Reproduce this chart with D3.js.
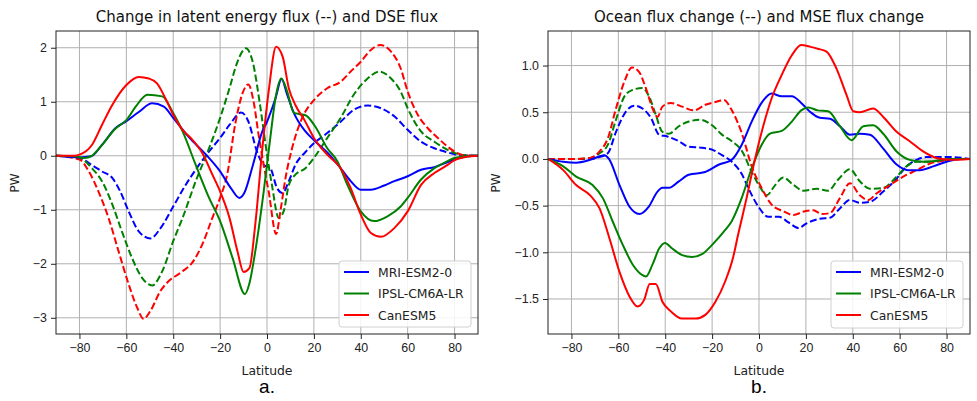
<!DOCTYPE html>
<html>
<head>
<meta charset="utf-8">
<script src="https://cdn.jsdelivr.net/npm/d3@7"></script>
<style>
  body { margin: 0; background: #fff; }
  svg { display: block; font-family: "DejaVu Sans", sans-serif; }
  .grid line { stroke: #b0b0b0; stroke-width: 1; }
  .axis path, .axis line { stroke: #222; }
  .axis text { fill: #222; font-size: 12.4px; }
</style>
</head>
<body>
<script>
// --- data ---
const models = ['MRI-ESM2-0', 'IPSL-CM6A-LR', 'CanESM5'];
const colors = ['#0000ff', '#008000', '#ff0000'];
const latTicks = [-80, -60, -40, -20, 0, 20, 40, 60, 80];
const leftTicks = [-3, -2, -1, 0, 1, 2];
const rightTicks = [-1.5, -1.0, -0.5, 0.0, 0.5, 1.0];

// panel a, solid: DSE flux change [lat, PW]
const dseMRI = [[-90,0],[-80,-0.03],[-75,-0.01],[-70.4,0.2],[-64.7,0.51],[-60,0.64],[-54.7,0.81],[-49,0.97],[-44,0.91],[-40,0.7],[-33,0.33],[-26,0.02],[-20,-0.29],[-15.4,-0.6],[-11.8,-0.78],[-9.7,-0.69],[-6,-0.17],[-2,0.45],[0,0.63],[3.6,1.06],[6.2,1.42],[8.6,1.13],[11.4,0.8],[16.4,0.45],[20.5,0.27],[25.7,0.06],[31.4,-0.23],[35.7,-0.47],[40,-0.63],[44.3,-0.63],[50,-0.55],[54.3,-0.47],[60,-0.38],[65.7,-0.26],[71.4,-0.21],[75.7,-0.14],[80,-0.07],[85.7,-0.01],[90,0]];
const dseIPSL = [[-90,0],[-82,-0.01],[-78,-0.04],[-74.7,0],[-70.4,0.2],[-64.7,0.5],[-60,0.66],[-56,0.91],[-51,1.13],[-44.7,1.1],[-40,0.79],[-36,0.45],[-30.4,-0.17],[-24.7,-0.78],[-20,-1.21],[-14.7,-1.89],[-9.4,-2.56],[-7.6,-2.38],[-5,-1.77],[-1.4,-0.66],[1.4,0.33],[3.6,1.06],[6.1,1.43],[8.6,1.19],[11.4,0.8],[14,0.77],[16.4,0.75],[20.3,0.56],[25.7,0.14],[30,-0.1],[34.3,-0.54],[40,-1.03],[45.7,-1.21],[51.4,-1.12],[57,-0.94],[60,-0.78],[65.7,-0.44],[71.4,-0.23],[77,-0.1],[80,-0.04],[85,-0.01],[90,0]];
const dseCan = [[-90,0],[-82,0],[-80,0.02],[-74.7,0.2],[-70.4,0.57],[-66,0.94],[-60,1.31],[-54.7,1.46],[-50.4,1.43],[-46.9,1.34],[-43.3,1.06],[-40,0.76],[-36,0.48],[-31.9,0.3],[-27.6,0.05],[-23.3,-0.35],[-20,-0.66],[-16,-1.15],[-12.6,-1.77],[-10,-2.15],[-7.5,-2.08],[-5,-1.27],[-2.1,0.08],[0.7,1.19],[3.9,2.02],[6.7,1.83],[9.3,1.25],[12.1,0.94],[16,0.66],[20,0.33],[25.7,0.02],[31.4,-0.23],[35.7,-0.6],[40,-1.09],[44.3,-1.43],[48.6,-1.5],[54.3,-1.34],[60,-1.03],[65.7,-0.54],[71.4,-0.32],[77,-0.17],[80,-0.08],[85,-0.02],[90,0]];

// panel a, dashed: latent energy flux change
const leMRI = [[-90,0],[-80,-0.04],[-74.7,-0.17],[-70.4,-0.29],[-66,-0.41],[-62.6,-0.66],[-59,-1.03],[-54.7,-1.4],[-49.7,-1.53],[-45.4,-1.34],[-40,-0.94],[-34.7,-0.54],[-29,-0.17],[-24.7,0.08],[-20,0.33],[-16,0.57],[-11,0.8],[-7.9,0.63],[-4.3,0.08],[-1.4,-0.17],[1.4,-0.23],[4.3,-0.6],[6.7,-0.69],[9.3,-0.47],[12.1,-0.17],[16.4,0.07],[20,0.23],[25.7,0.42],[31.4,0.63],[37,0.85],[42.9,0.93],[48.6,0.88],[54.3,0.73],[60,0.48],[65.7,0.26],[71.4,0.14],[75.7,0.08],[80,0.03],[84,0.01],[90,0]];
const leIPSL = [[-90,0],[-80,-0.04],[-74.7,-0.23],[-70.4,-0.47],[-66,-0.9],[-61.9,-1.4],[-57.6,-1.89],[-53.3,-2.26],[-49,-2.4],[-44.7,-2.14],[-40,-1.58],[-36,-1.15],[-30.4,-0.47],[-24.7,0.14],[-20,0.7],[-16,1.25],[-12.6,1.74],[-9,1.99],[-6.1,1.74],[-3,0.95],[0,0.02],[2.1,-0.54],[5,-1.15],[7.1,-1.03],[9.3,-0.54],[12.1,-0.35],[16.4,-0.23],[20,-0.04],[25.7,0.33],[31.4,0.7],[37,1.13],[42.9,1.43],[47.9,1.56],[52.9,1.43],[57,1.19],[60,0.88],[65.7,0.45],[71.4,0.26],[75.7,0.14],[80,0.05],[84,0.01],[90,0]];
const leCan = [[-90,0],[-80,-0.07],[-76,-0.29],[-71.9,-0.66],[-67.6,-1.15],[-63.3,-1.77],[-59,-2.38],[-55.4,-2.81],[-52.6,-3.02],[-49.7,-2.87],[-45.4,-2.5],[-41.9,-2.32],[-36,-2.14],[-31.9,-1.98],[-27.6,-1.64],[-23.3,-1.15],[-20,-0.78],[-17,-0.35],[-13.5,0.6],[-10.5,1.15],[-8,1.32],[-5.7,1.0],[-3.6,0.39],[-1.4,-0.17],[0.7,-0.66],[3.9,-1.45],[5.7,-1.03],[7.9,-0.41],[10.7,0.14],[15,0.7],[20,1.03],[25.7,1.25],[31.4,1.37],[35.7,1.56],[40,1.74],[44.3,1.96],[48.3,2.05],[52.9,1.93],[57,1.62],[60,1.19],[64.3,0.76],[68.6,0.51],[72.9,0.33],[77,0.17],[80,0.08],[84,0.01],[90,0]];

// panel b, solid: MSE flux change
const mseMRI = [[-90,0],[-83.5,-0.03],[-78,-0.04],[-72,-0.01],[-66,0.04],[-64,0],[-59.5,-0.28],[-55.3,-0.51],[-51,-0.59],[-47,-0.51],[-43.3,-0.35],[-41.2,-0.31],[-38.4,-0.31],[-34.2,-0.24],[-30,-0.17],[-23,-0.14],[-17,-0.06],[-11.7,-0.01],[-7.4,0.15],[-3.1,0.4],[1.1,0.6],[5.4,0.7],[9.7,0.67],[14,0.67],[18,0.6],[22,0.5],[26,0.44],[30.3,0.43],[34.5,0.35],[38.8,0.26],[43,0.27],[47.3,0.26],[53,0.11],[58.7,-0.06],[63.6,-0.12],[68.6,-0.12],[74.3,-0.08],[80,-0.03],[85.7,0],[90,0]];
const mseIPSL = [[-90,0],[-83.5,-0.08],[-78,-0.19],[-71,-0.28],[-66.6,-0.42],[-62.4,-0.67],[-58.1,-0.92],[-53.9,-1.13],[-50,-1.24],[-48.3,-1.26],[-45.4,-1.13],[-42.6,-0.96],[-40.1,-0.9],[-37,-0.96],[-32.8,-1.03],[-28.5,-1.05],[-24.3,-1.02],[-20,-0.92],[-14.4,-0.76],[-11.7,-0.67],[-7.4,-0.42],[-3.1,-0.1],[1.1,0.15],[4.7,0.27],[9.7,0.3],[14,0.4],[18,0.52],[21,0.55],[25,0.52],[29.5,0.51],[34.5,0.35],[39.5,0.2],[44.5,0.35],[48.7,0.36],[53,0.27],[58.7,0.08],[64.3,-0.01],[70,-0.03],[75.7,-0.02],[81.4,0],[90,0]];
const mseCan = [[-90,0],[-83.5,-0.12],[-78,-0.28],[-72,-0.39],[-68,-0.53],[-63.8,-0.85],[-59.5,-1.21],[-55.3,-1.47],[-51.8,-1.58],[-49,-1.51],[-46.6,-1.34],[-44,-1.34],[-41.2,-1.53],[-37.7,-1.63],[-32.8,-1.71],[-27.1,-1.71],[-22.9,-1.67],[-18.6,-1.53],[-14.4,-1.31],[-11,-1.05],[-8.9,-0.81],[-5.3,-0.42],[-1.7,0],[1.9,0.36],[5.4,0.65],[9.7,0.9],[14,1.11],[18,1.22],[22,1.2],[25,1.18],[28.8,1.15],[33,0.97],[37.4,0.68],[40.2,0.51],[43,0.5],[48.7,0.54],[53,0.45],[58.7,0.29],[64.3,0.19],[70,0.08],[75.7,0.01],[81.4,-0.01],[90,0]];

// panel b, dashed: ocean heat flux change
const ocMRI = [[-90,0],[-78,0],[-72,0],[-68,0.02],[-64.5,0.06],[-61,0.29],[-56.7,0.51],[-53.2,0.57],[-49.7,0.54],[-46.1,0.44],[-42.6,0.26],[-39.1,0.24],[-34.2,0.19],[-29.9,0.13],[-24.3,0.12],[-20,0.1],[-15.8,0.04],[-11.6,-0.03],[-7.4,-0.16],[-4.6,-0.31],[-0.3,-0.51],[4,-0.62],[8.5,-0.62],[12.6,-0.68],[16.8,-0.74],[20.3,-0.69],[26,-0.64],[30.3,-0.63],[34.5,-0.53],[38.8,-0.44],[43,-0.47],[47.3,-0.46],[53,-0.35],[58.7,-0.21],[62.9,-0.08],[67.2,-0.01],[71.4,0.02],[81.4,0.02],[90,0]];
const ocIPSL = [[-90,0],[-78,0],[-72,0.01],[-68,0.06],[-64.5,0.15],[-61,0.42],[-57.4,0.67],[-53.9,0.74],[-49.7,0.76],[-46.9,0.67],[-44,0.47],[-41.2,0.29],[-38.4,0.27],[-34.2,0.35],[-29.9,0.4],[-25,0.42],[-20,0.36],[-15.8,0.26],[-11.6,0.19],[-7.4,0.09],[-3.1,-0.14],[0.4,-0.3],[3.3,-0.39],[6.9,-0.28],[10.4,-0.2],[14.3,-0.27],[19,-0.34],[24.6,-0.32],[29.5,-0.34],[33.8,-0.22],[38.8,-0.11],[43,-0.24],[47.3,-0.32],[53,-0.31],[58.7,-0.19],[62.9,-0.08],[67.2,-0.03],[72.9,-0.03],[78.6,-0.01],[90,0]];
const ocCan = [[-90,0],[-78,0],[-72,0.01],[-68,0.08],[-64.5,0.22],[-61,0.54],[-57.4,0.83],[-54.2,0.98],[-51.1,0.93],[-48.3,0.76],[-45.4,0.54],[-43.3,0.45],[-41.2,0.56],[-37.7,0.6],[-32.8,0.56],[-27.8,0.52],[-22.9,0.58],[-18.6,0.61],[-15,0.63],[-11.6,0.52],[-7.4,0.28],[-3.1,-0.08],[1.1,-0.31],[5.4,-0.49],[10.4,-0.56],[14.6,-0.6],[19.6,-0.56],[23.2,-0.55],[26.7,-0.59],[30.3,-0.58],[34.5,-0.42],[38.8,-0.26],[43,-0.39],[46.6,-0.44],[50.1,-0.37],[55.8,-0.28],[61.5,-0.19],[67.2,-0.12],[72.9,-0.05],[78.6,-0.02],[85.7,0],[90,0]];

const width = 977;
const height = 401;

const svg = d3.select('body')
    .append('svg')
    .attr('width', width)
    .attr('height', height);

const panels = [
    {
        title: 'Change in latent energy flux (--) and DSE flux',
        tag: 'a.',
        left: 56, right: 478, top: 31, bottom: 334,
        yDomain: [-3.3, 2.31],
        yTicks: leftTicks, yFormat: d3.format('d'),
        labelX: 15,
        solid: [dseMRI, dseIPSL, dseCan],
        dashed: [leMRI, leIPSL, leCan],
        legend: { x: 339, y: 261, w: 132, h: 66 }
    },
    {
        title: 'Ocean flux change (--) and MSE flux change',
        tag: 'b.',
        left: 548, right: 970, top: 31, bottom: 334,
        yDomain: [-1.875, 1.37],
        yTicks: rightTicks, yFormat: d3.format('.1f'),
        labelX: 496,
        solid: [mseMRI, mseIPSL, mseCan],
        dashed: [ocMRI, ocIPSL, ocCan],
        legend: { x: 831, y: 261, w: 132, h: 67 }
    }
];

panels.forEach((p, pi) => drawPanel(p, pi));

function drawPanel(p, pi) {
    const x = d3.scaleLinear().domain([-90, 90]).range([p.left, p.right]);
    const y = d3.scaleLinear().domain(p.yDomain).range([p.bottom, p.top]);
    const minus = s => s.replace('-', '\u2212');

    const g = svg.append('g');

    g.append('clipPath')
        .attr('id', 'clip' + pi)
        .append('rect')
        .attr('x', p.left).attr('y', p.top)
        .attr('width', p.right - p.left).attr('height', p.bottom - p.top);

    // grid
    const grid = g.append('g').attr('class', 'grid');
    grid.selectAll('.gx').data(latTicks).enter().append('line')
        .attr('x1', d => x(d)).attr('x2', d => x(d))
        .attr('y1', p.top).attr('y2', p.bottom);
    grid.selectAll('.gy').data(p.yTicks).enter().append('line')
        .attr('x1', p.left).attr('x2', p.right)
        .attr('y1', d => y(d)).attr('y2', d => y(d));

    // curves
    const line = d3.line()
        .x(d => x(d[0]))
        .y(d => y(d[1]))
        .curve(d3.curveMonotoneX);

    const lines = g.append('g').attr('clip-path', `url(#clip${pi})`);
    p.dashed.forEach((s, i) => {
        lines.append('path')
            .datum(s)
            .attr('d', line)
            .attr('fill', 'none')
            .attr('stroke', colors[i])
            .attr('stroke-width', 2)
            .attr('stroke-dasharray', '7,3');
    });
    p.solid.forEach((s, i) => {
        lines.append('path')
            .datum(s)
            .attr('d', line)
            .attr('fill', 'none')
            .attr('stroke', colors[i])
            .attr('stroke-width', 2);
    });

    // axes
    g.append('g')
        .attr('class', 'axis')
        .attr('transform', `translate(0, ${p.bottom})`)
        .call(d3.axisBottom(x).tickValues(latTicks).tickSize(5).tickPadding(4)
            .tickFormat(d => minus(String(d))))
        .call(a => a.select('.domain').remove());
    g.append('g')
        .attr('class', 'axis')
        .attr('transform', `translate(${p.left}, 0)`)
        .call(d3.axisLeft(y).tickValues(p.yTicks).tickSize(5).tickPadding(4)
            .tickFormat(d => minus(p.yFormat(d))))
        .call(a => a.select('.domain').remove());

    g.append('rect')
        .attr('x', p.left).attr('y', p.top)
        .attr('width', p.right - p.left).attr('height', p.bottom - p.top)
        .attr('fill', 'none')
        .attr('stroke', '#222')
        .attr('stroke-width', 1);

    // texts
    const cx = (p.left + p.right) / 2;
    g.append('text')
        .attr('x', cx).attr('y', 22)
        .attr('text-anchor', 'middle')
        .attr('font-size', 15)
        .attr('fill', '#111')
        .text(p.title);
    g.append('text')
        .attr('x', cx).attr('y', 375)
        .attr('text-anchor', 'middle')
        .attr('font-size', 12.4)
        .attr('fill', '#222')
        .text('Latitude');
    g.append('text')
        .attr('transform', `translate(${p.labelX + 4}, 183) rotate(-90)`)
        .attr('text-anchor', 'middle')
        .attr('font-size', 12.4)
        .attr('fill', '#222')
        .text('PW');
    g.append('text')
        .attr('x', cx).attr('y', 393)
        .attr('text-anchor', 'middle')
        .attr('font-family', '"Liberation Sans", Arial, sans-serif')
        .attr('font-size', 19)
        .attr('fill', '#000')
        .text(p.tag);

    // legend
    const L = p.legend;
    const lg = g.append('g');
    lg.append('rect')
        .attr('x', L.x).attr('y', L.y)
        .attr('width', L.w).attr('height', L.h)
        .attr('rx', 3)
        .attr('fill', 'rgba(255,255,255,0.85)')
        .attr('stroke', '#d0d0d0');
    models.forEach((m, i) => {
        const ly = L.y + 11 + i * 21.5;
        lg.append('line')
            .attr('x1', L.x + 5).attr('x2', L.x + 30)
            .attr('y1', ly).attr('y2', ly)
            .attr('stroke', colors[i])
            .attr('stroke-width', 2);
        lg.append('text')
            .attr('x', L.x + 39).attr('y', ly + 4.5)
            .attr('font-size', 12.4)
            .attr('fill', '#222')
            .text(m);
    });
}
</script>
</body>
</html>
